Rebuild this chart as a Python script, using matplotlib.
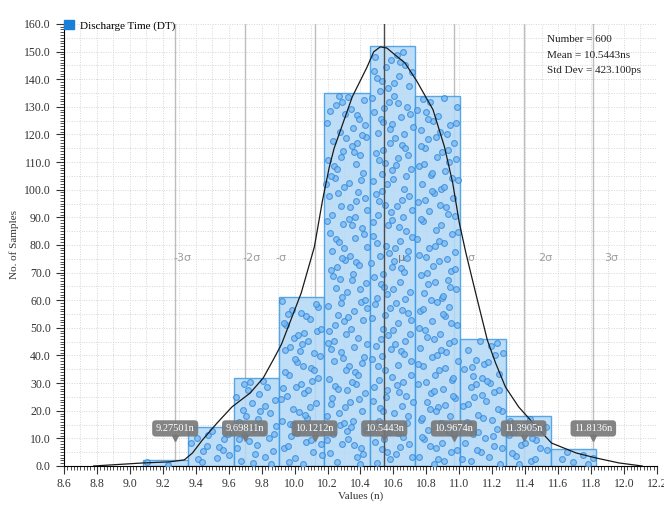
import numpy as np
import matplotlib.pyplot as plt
from matplotlib.patches import Patch

# === Data ===
bin_start = 9.079
bin_width = 0.2752
bin_counts = [2, 14, 32, 61, 135, 152, 134, 46, 18, 6]

mean_ns = 10.5443
std_ns = 0.4231
sigma_steps = [-3, -2, -1, 0, 1, 2, 3]
sigma_names = ['-3σ', '-2σ', '-σ', 'μ', 'σ', '2σ', '3σ']
sigma_label_x = [9.32, 9.74, 9.92, 10.65, 11.07, 11.52, 11.92]
marker_labels = ['9.27501n', '9.69811n', '10.1212n', '10.5443n', '10.9674n', '11.3905n', '11.8136n']

# fitted density curve (traced)
curve_x = [8.78, 9.08, 9.24, 9.33, 9.38, 9.44, 9.53, 9.62, 9.73, 9.81, 9.87, 9.92,
           10.04, 10.12, 10.17, 10.21, 10.24, 10.35, 10.44, 10.48, 10.52, 10.56,
           10.61, 10.67, 10.74, 10.84, 10.91, 10.96, 11.00, 11.04, 11.08, 11.12,
           11.17, 11.22, 11.28, 11.36, 11.47, 11.56, 11.71, 11.83, 11.97, 12.11]
curve_y = [0, 1.1, 1.5, 2.2, 4.7, 9.4, 15.6, 21.4, 26.4, 31.9, 38.4, 44.0,
           62.6, 79.3, 96.3, 108, 115, 133.6, 144.4, 149.9, 151.7, 151.3,
           148.8, 145.9, 139.5, 129, 115.5, 102.4, 88, 77.1, 67.3, 57.6,
           45.6, 37.3, 28.6, 21.4, 14.1, 8.3, 4.7, 2.9, 1.1, 0]

plt.rcParams['font.family'] = ['Liberation Serif', 'DejaVu Sans']


def halton(i, base):
    f, r = 1.0, 0.0
    while i > 0:
        f /= base
        r += f * (i % base)
        i //= base
    return r


fig = plt.figure(figsize=(6.64, 5.14), dpi=100)
ax = fig.add_axes([0.0964, 0.0934, 0.893, 0.86])
ax.set_xlim(8.6, 12.2)
ax.set_ylim(0, 160)

# dotted grid
for gx in np.arange(8.6, 12.21, 0.1):
    ax.axvline(gx, color='#d6d6d6', lw=0.7, ls=(0, (1, 1.5)), zorder=0)
for gy in np.arange(5, 160.1, 5):
    ax.axhline(gy, color='#d6d6d6', lw=0.7, ls=(0, (1, 1.5)), zorder=0)

# histogram bars
lefts = [bin_start + i * bin_width for i in range(len(bin_counts))]
ax.bar(lefts, bin_counts, width=bin_width, align='edge', color='#b3d9f7',
       edgecolor='#3f9ae2', linewidth=1.0, alpha=0.85, zorder=2)

# sample dots spread inside each bar (quasi-random layout, one per sample)
dx, dy = [], []
k = 7
for left, c in zip(lefts, bin_counts):
    for j in range(c):
        k += 1
        u = halton(k, 2)
        v = halton(k, 3)
        dx.append(left + 0.04 * bin_width + u * 0.92 * bin_width)
        dy.append(0.4 + v * (c - 0.8))
ax.plot(dx, dy, 'o', ms=4.2, mfc='#7ab8ef', mec='#2b86dc', mew=0.8, alpha=0.75, zorder=3)

# sigma lines
for s in sigma_steps:
    xv = mean_ns + s * std_ns
    if s == 0:
        ax.axvline(xv, color='#4a4a4a', lw=1.0, zorder=4)
    else:
        ax.axvline(xv, color='#bdbdbd', lw=1.0, zorder=1)
for name, lx in zip(sigma_names, sigma_label_x):
    ax.text(lx, 75.3, name, color='#777777' if name == 'μ' else '#a0a0a0', fontsize=8,
            ha='center', va='center', family=['DejaVu Sans'], zorder=6)

# density curve
ax.plot(curve_x, curve_y, color='#1a1a1a', lw=0.9, zorder=5)

# value tags
for s, txt in zip(sigma_steps, marker_labels):
    xv = mean_ns + s * std_ns
    ax.plot(xv, 10.3, marker='v', ms=5, color='#777777', alpha=0.9, zorder=6)
    ax.text(xv, 13.6, txt, color='white', fontsize=7.5, ha='center', va='center', zorder=7,
            bbox=dict(boxstyle='round,pad=0.35,rounding_size=0.35', fc='#777777', ec='none', alpha=0.9))

# stats box
ax.text(0.815, 0.975, 'Number = 600\nMean = 10.5443ns\nStd Dev = 423.100ps',
        transform=ax.transAxes, fontsize=8, color='#222222', va='top', ha='left',
        linespacing=1.95, zorder=8)

# axes styling
ax.spines['top'].set_visible(False)
ax.spines['right'].set_visible(False)
ax.set_xticks(np.arange(8.6, 12.21, 0.2))
ax.set_xticks(np.arange(8.6, 12.21, 0.02), minor=True)
ax.set_yticks(np.arange(0, 160.1, 10))
ax.set_yticks(np.arange(0, 160.1, 1), minor=True)
ax.xaxis.set_major_formatter(plt.FormatStrFormatter('%.1f'))
ax.yaxis.set_major_formatter(plt.FormatStrFormatter('%.1f'))
ax.tick_params(which='major', length=6, width=0.8, labelsize=8.5, colors='#333333')
ax.tick_params(which='minor', length=3, width=0.6, colors='#333333')
ax.tick_params(axis='x', which='both', pad=3)
ax.set_xlabel('Values (n)', fontsize=8, color='#333333', labelpad=1)
ax.set_ylabel('No. of Samples', fontsize=8, color='#333333', labelpad=4)

ax.legend(handles=[Patch(color='#1a7fd8', label='Discharge Time (DT)')],
          loc='lower left', bbox_to_anchor=(0.0, 0.985), frameon=False,
          fontsize=8, handlelength=0.9, handleheight=0.9, handletextpad=0.5,
          borderpad=0, borderaxespad=0)

plt.savefig('out.png', dpi=100)
